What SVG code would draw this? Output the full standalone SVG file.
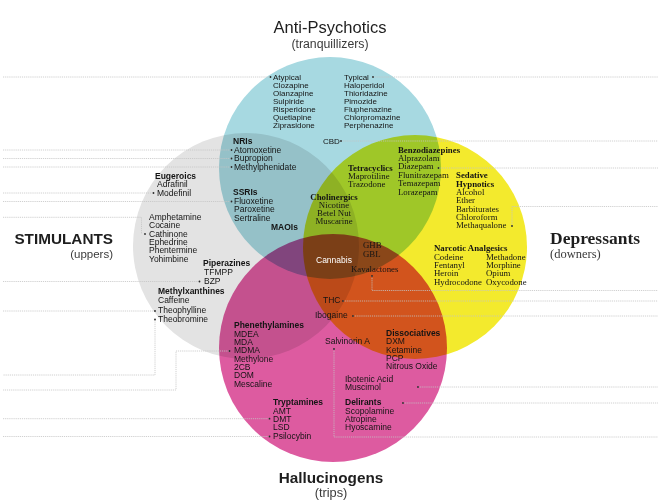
<svg xmlns="http://www.w3.org/2000/svg" width="660" height="504" viewBox="0 0 660 504">
<style>
.c{mix-blend-mode:multiply}
.s{font-family:"Liberation Sans",Arial,sans-serif;font-size:8.5px;fill:#141414}
.sa{font-family:"Liberation Sans",Arial,sans-serif;font-size:8px;fill:#141414}
.b{font-weight:bold}
.r{font-family:"Liberation Serif","Times New Roman",serif;font-size:8.8px;fill:#141414}
.lead{fill:none;stroke:#c4c4c4;stroke-width:0.8;stroke-dasharray:1.2 0.9}
.dot{fill:#2a2a2a}
.t{font-family:"Liberation Sans",Arial,sans-serif;fill:#1e1e1e}
.ts{font-family:"Liberation Serif","Times New Roman",serif;fill:#1e1e1e}
.sub{fill:#3a3a3a}
</style>
<rect width="660" height="504" fill="#fff"/>

<!-- four overlapping class circles, blended so overlaps darken -->
<g id="circles" style="isolation:isolate">
  <circle id="circle-stimulants" class="c" cx="246" cy="246" r="113" fill="#e3e3e3"/>
  <circle id="circle-antipsychotics" class="c" cx="330" cy="168" r="111" fill="#a7d9e1"/>
  <circle id="circle-depressants" class="c" cx="415" cy="247" r="112" fill="#f3ea2d"/>
  <circle id="circle-hallucinogens" class="c" cx="333" cy="348" r="114" fill="#dd5ba0"/>
</g>

<!-- leader lines -->
<g id="connectors">
  <!-- left side -->
  <path class="lead" d="M3 77H270.5"/>
  <path class="lead" d="M3 150H231.5"/>
  <path class="lead" d="M3 158.5H231.5"/>
  <path class="lead" d="M3 167H231.5"/>
  <path class="lead" d="M3 193H153.5"/>
  <path class="lead" d="M3 201.5H231.5"/>
  <path class="lead" d="M3 217.3H141.5V234"/>
  <path class="lead" d="M3 281.5H199.5"/>
  <path class="lead" d="M3 311H155"/>
  <path class="lead" d="M155 319.5V375H3"/>
  <path class="lead" d="M229.5 351H176V390H3"/>
  <path class="lead" d="M3 418.7H269.5"/>
  <path class="lead" d="M3 436.5H269.5"/>
  <!-- right side -->
  <path class="lead" d="M373 77H658"/>
  <path class="lead" d="M341 141H658"/>
  <path class="lead" d="M438.5 168H658"/>
  <path class="lead" d="M512 226V206.5H658"/>
  <path class="lead" d="M372 276V290.5H658"/>
  <path class="lead" d="M343 301H658"/>
  <path class="lead" d="M353 316H658"/>
  <path class="lead" d="M418 387H658"/>
  <path class="lead" d="M403 403H658"/>
  <path class="lead" d="M334 349V437H658"/>
  <!-- end dots -->
  <g class="dot">
    <circle cx="270.5" cy="77" r="0.9"/>
    <circle cx="373" cy="77" r="0.9"/>
    <circle cx="341" cy="141" r="0.9"/>
    <circle cx="231.5" cy="150" r="0.9"/>
    <circle cx="231.5" cy="158.5" r="0.9"/>
    <circle cx="231.5" cy="167" r="0.9"/>
    <circle cx="153.5" cy="193" r="0.9"/>
    <circle cx="231.5" cy="201.5" r="0.9"/>
    <circle cx="145" cy="234" r="0.9"/>
    <circle cx="199.5" cy="281.5" r="0.9"/>
    <circle cx="155" cy="311" r="0.9"/>
    <circle cx="155" cy="319.5" r="0.9"/>
    <circle cx="229.5" cy="351" r="0.9"/>
    <circle cx="269.5" cy="418.7" r="0.9"/>
    <circle cx="269.5" cy="436.5" r="0.9"/>
    <circle cx="438.5" cy="168" r="0.9"/>
    <circle cx="512" cy="226" r="0.9"/>
    <circle cx="372" cy="276" r="0.9"/>
    <circle cx="343" cy="301" r="0.9"/>
    <circle cx="353" cy="316" r="0.9"/>
    <circle cx="334" cy="349" r="0.9"/>
    <circle cx="418" cy="387" r="0.9"/>
    <circle cx="403" cy="403" r="0.9"/>
  </g>
</g>

<!-- class titles -->
<g id="title-antipsychotics">
  <text class="t" x="330" y="33" font-size="16.5" text-anchor="middle">Anti-Psychotics</text>
  <text class="t sub" x="330" y="48" font-size="12.3" text-anchor="middle">(tranquillizers)</text>
</g>
<g id="title-stimulants">
  <text class="t" x="113" y="244" font-size="15.3" font-weight="bold" text-anchor="end">STIMULANTS</text>
  <text class="t sub" x="113" y="258.3" font-size="11.5" text-anchor="end">(uppers)</text>
</g>
<g id="title-depressants">
  <text class="ts" x="550" y="244" font-size="17.5" font-weight="bold">Depressants</text>
  <text class="ts sub" x="550" y="258.3" font-size="12.5">(downers)</text>
</g>
<g id="title-hallucinogens">
  <text class="t" x="331" y="483" font-size="15.3" font-weight="bold" text-anchor="middle">Hallucinogens</text>
  <text class="t sub" x="331" y="496.5" font-size="12.8" text-anchor="middle">(trips)</text>
</g>

<!-- anti-psychotics -->
<g id="node-atypical">
  <text class="sa"><tspan x="273" y="79.5">Atypical</tspan><tspan x="273" y="87.6">Clozapine</tspan><tspan x="273" y="95.7">Olanzapine</tspan><tspan x="273" y="103.8">Sulpiride</tspan><tspan x="273" y="111.9">Risperidone</tspan><tspan x="273" y="120">Quetiapine</tspan><tspan x="273" y="128.1">Ziprasidone</tspan></text>
</g>
<g id="node-typical">
  <text class="sa"><tspan x="344" y="79.5">Typical</tspan><tspan x="344" y="87.6">Haloperidol</tspan><tspan x="344" y="95.7">Thioridazine</tspan><tspan x="344" y="103.8">Pimozide</tspan><tspan x="344" y="111.9">Fluphenazine</tspan><tspan x="344" y="120">Chlorpromazine</tspan><tspan x="344" y="128.1">Perphenazine</tspan></text>
</g>
<g id="node-cbd">
  <text class="sa" x="323" y="144">CBD</text>
</g>

<!-- antidepressants / stimulant overlap -->
<g id="node-nris">
  <text class="s"><tspan class="b" x="233" y="143.5">NRIs</tspan><tspan x="234" y="152.5">Atomoxetine</tspan><tspan x="234" y="161">Bupropion</tspan><tspan x="234" y="169.5">Methylphenidate</tspan></text>
</g>
<g id="node-ssris">
  <text class="s"><tspan class="b" x="233" y="195">SSRIs</tspan><tspan x="234" y="203.8">Fluoxetine</tspan><tspan x="234" y="212.3">Paroxetine</tspan><tspan x="234" y="220.8">Sertraline</tspan></text>
</g>
<g id="node-maois">
  <text class="s b" x="271" y="230">MAOIs</text>
</g>

<!-- stimulants -->
<g id="node-eugeroics">
  <text class="s"><tspan class="b" x="155" y="178.5">Eugeroics</tspan><tspan x="157" y="187">Adrafinil</tspan><tspan x="157" y="195.5">Modefinil</tspan></text>
</g>
<g id="node-amphetamines">
  <text class="s"><tspan x="149" y="220">Amphetamine</tspan><tspan x="149" y="228.3">Cocaine</tspan><tspan x="149" y="236.6">Cathinone</tspan><tspan x="149" y="244.9">Ephedrine</tspan><tspan x="149" y="253.2">Phentermine</tspan><tspan x="149" y="261.5">Yohimbine</tspan></text>
</g>
<g id="node-piperazines">
  <text class="s"><tspan class="b" x="203" y="266">Piperazines</tspan><tspan x="204" y="274.5">TFMPP</tspan><tspan x="204" y="283.5">BZP</tspan></text>
</g>
<g id="node-methylxanthines">
  <text class="s"><tspan class="b" x="158" y="294">Methylxanthines</tspan><tspan x="158" y="302.5">Caffeine</tspan><tspan x="158" y="313">Theophylline</tspan><tspan x="158" y="321.5">Theobromine</tspan></text>
</g>

<!-- depressants -->
<g id="node-tetracyclics">
  <text class="r"><tspan class="b" x="348" y="170.5">Tetracyclics</tspan><tspan x="348" y="178.8">Maprotiline</tspan><tspan x="348" y="187">Trazodone</tspan></text>
</g>
<g id="node-cholinergics">
  <text class="r" text-anchor="middle"><tspan class="b" x="334" y="199.5">Cholinergics</tspan><tspan x="334" y="207.8">Nicotine</tspan><tspan x="334" y="216">Betel Nut</tspan><tspan x="334" y="224.3">Muscarine</tspan></text>
</g>
<g id="node-benzodiazepines">
  <text class="r"><tspan class="b" x="398" y="152.7">Benzodiazepines</tspan><tspan x="398" y="161">Alprazolam</tspan><tspan x="398" y="169.4">Diazepam</tspan><tspan x="398" y="177.8">Flunitrazepam</tspan><tspan x="398" y="186.2">Temazepam</tspan><tspan x="398" y="194.6">Lorazepam</tspan></text>
</g>
<g id="node-sedative-hypnotics">
  <text class="r"><tspan class="b" x="456" y="178.3">Sedative</tspan><tspan class="b" x="456" y="186.7">Hypnotics</tspan><tspan x="456" y="195">Alcohol</tspan><tspan x="456" y="203.3">Ether</tspan><tspan x="456" y="211.7">Barbiturates</tspan><tspan x="456" y="220">Chloroform</tspan><tspan x="456" y="228.3">Methaqualone</tspan></text>
</g>
<g id="node-narcotic-analgesics">
  <text class="r"><tspan class="b" x="434" y="251">Narcotic Analgesics</tspan><tspan x="434" y="259.5">Codeine</tspan><tspan x="434" y="267.9">Fentanyl</tspan><tspan x="434" y="276.3">Heroin</tspan><tspan x="434" y="284.7">Hydrocodone</tspan><tspan x="486" y="259.5">Methadone</tspan><tspan x="486" y="267.9">Morphine</tspan><tspan x="486" y="276.3">Opium</tspan><tspan x="486" y="284.7">Oxycodone</tspan></text>
</g>
<g id="node-ghb">
  <text class="r"><tspan x="363" y="248.3">GHB</tspan><tspan x="363" y="256.7">GBL</tspan></text>
</g>
<g id="node-kavalactones">
  <text class="r" x="351" y="271.7">Kavalactones</text>
</g>

<!-- centre -->
<g id="node-cannabis">
  <text class="s" x="316" y="262.5" font-size="8.8" fill="#fff" style="fill:#fff">Cannabis</text>
</g>
<g id="node-thc">
  <text class="s" x="323" y="303.3" font-size="8.7">THC</text>
</g>
<g id="node-ibogaine">
  <text class="s" x="315" y="318" font-size="8.7">Ibogaine</text>
</g>

<!-- hallucinogens -->
<g id="node-phenethylamines">
  <text class="s"><tspan class="b" x="234" y="328.3">Phenethylamines</tspan><tspan x="234" y="336.7">MDEA</tspan><tspan x="234" y="345">MDA</tspan><tspan x="234" y="353.3">MDMA</tspan><tspan x="234" y="361.7">Methylone</tspan><tspan x="234" y="370">2CB</tspan><tspan x="234" y="378.3">DOM</tspan><tspan x="234" y="386.7">Mescaline</tspan></text>
</g>
<g id="node-salvinorin">
  <text class="s" x="325" y="344.3" font-size="8.7">Salvinorin A</text>
</g>
<g id="node-dissociatives">
  <text class="s"><tspan class="b" x="386" y="336">Dissociatives</tspan><tspan x="386" y="344.3">DXM</tspan><tspan x="386" y="352.7">Ketamine</tspan><tspan x="386" y="361">PCP</tspan><tspan x="386" y="369.3">Nitrous Oxide</tspan></text>
</g>
<g id="node-ibotenic">
  <text class="s"><tspan x="345" y="381.7">Ibotenic Acid</tspan><tspan x="345" y="390">Muscimol</tspan></text>
</g>
<g id="node-deliriants">
  <text class="s"><tspan class="b" x="345" y="405.3">Delirants</tspan><tspan x="345" y="413.6">Scopolamine</tspan><tspan x="345" y="421.9">Atropine</tspan><tspan x="345" y="430.2">Hyoscamine</tspan></text>
</g>
<g id="node-tryptamines">
  <text class="s"><tspan class="b" x="273" y="405.3">Tryptamines</tspan><tspan x="273" y="413.6">AMT</tspan><tspan x="273" y="421.9">DMT</tspan><tspan x="273" y="430.2">LSD</tspan><tspan x="273" y="438.5">Psilocybin</tspan></text>
</g>
</svg>
